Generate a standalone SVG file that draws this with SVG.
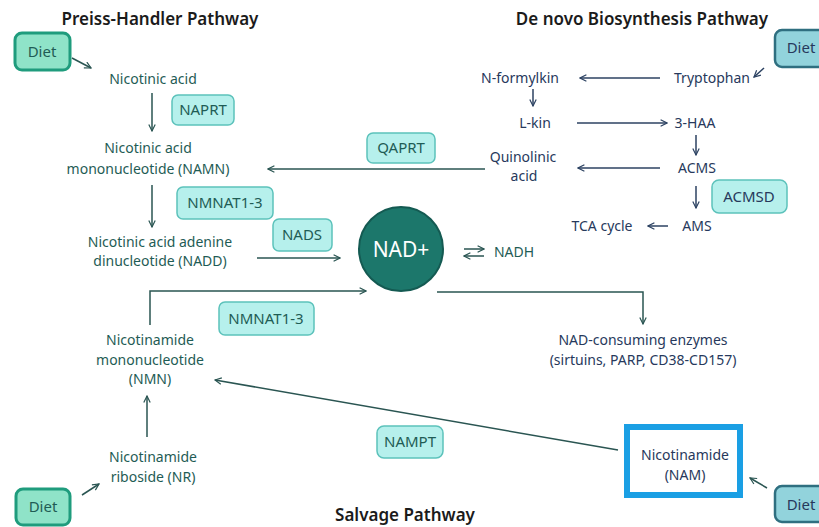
<svg xmlns="http://www.w3.org/2000/svg" width="819" height="527" viewBox="0 0 819 527">
<defs>
<style>
.t{font-family:"Noto Sans","Liberation Sans",sans-serif;font-size:14px;text-anchor:middle}
.e{font-size:15px}
.big{font-size:21px;fill:#ffffff}
.g{fill:#1f5c55}
.b{fill:#27395c}
.title{font-family:"Noto Sans","Liberation Sans",sans-serif;font-size:17px;font-weight:600;fill:#1b1b1b;text-anchor:middle}
.enz{fill:#b6f0ec;stroke:#5cc2bb;stroke-width:1.5}
.dietL{fill:#8fe3c8;stroke:#1f9c7d;stroke-width:3}
.dietR{fill:#92d3dc;stroke:#2f6f80;stroke-width:2.5}
.lg{fill:none;stroke:#2a5552;stroke-width:1.5}
.lb{fill:none;stroke:#2c4262;stroke-width:1.5}
</style>
<marker id="ag" viewBox="0 0 10 10" refX="9" refY="5" markerWidth="8" markerHeight="8" orient="auto" markerUnits="userSpaceOnUse"><path d="M1,1 L9,5 L1,9" fill="none" stroke="#2a5552" stroke-width="1.5"/></marker>
<marker id="ab" viewBox="0 0 10 10" refX="9" refY="5" markerWidth="8" markerHeight="8" orient="auto" markerUnits="userSpaceOnUse"><path d="M1,1 L9,5 L1,9" fill="none" stroke="#2c4262" stroke-width="1.5"/></marker>
</defs>
<rect width="819" height="527" fill="#ffffff"/>

<text class="title" x="160" y="25">Preiss-Handler Pathway</text>
<text class="title" x="642" y="25">De novo Biosynthesis Pathway</text>
<text class="title" x="405" y="521">Salvage Pathway</text>

<g id="connectors">
<line class="lg" x1="72" y1="58" x2="91" y2="68" marker-end="url(#ag)"/>
<line class="lg" x1="152" y1="93" x2="152" y2="131" marker-end="url(#ag)"/>
<line class="lg" x1="152" y1="185" x2="152" y2="227" marker-end="url(#ag)"/>
<line class="lg" x1="257" y1="258" x2="340" y2="258" marker-end="url(#ag)"/>
<line class="lg" x1="485" y1="169" x2="268" y2="169" marker-end="url(#ag)"/>
<polyline class="lg" points="150,325 150,291 366,291" marker-end="url(#ag)"/>
<line class="lg" x1="147" y1="437" x2="147" y2="396" marker-end="url(#ag)"/>
<line class="lg" x1="82" y1="495" x2="99" y2="484" marker-end="url(#ag)"/>
<line class="lg" x1="618" y1="450" x2="215" y2="380" marker-end="url(#ag)"/>
<polyline class="lg" points="437,292 643,292 643,324" marker-end="url(#ag)"/>
<line class="lg" x1="767" y1="488" x2="750" y2="478" marker-end="url(#ag)"/>
<line class="lb" x1="764" y1="68" x2="754" y2="77" marker-end="url(#ab)"/>
<line class="lb" x1="660" y1="78" x2="580" y2="78" marker-end="url(#ab)"/>
<line class="lb" x1="533" y1="89" x2="533" y2="106" marker-end="url(#ab)"/>
<line class="lb" x1="577" y1="123" x2="667" y2="123" marker-end="url(#ab)"/>
<line class="lb" x1="696" y1="135" x2="696" y2="155" marker-end="url(#ab)"/>
<line class="lb" x1="660" y1="168" x2="578" y2="168" marker-end="url(#ab)"/>
<line class="lb" x1="696" y1="186" x2="696" y2="208" marker-end="url(#ab)"/>
<line class="lb" x1="668" y1="226" x2="648" y2="226" marker-end="url(#ab)"/>
<line class="lg" x1="464" y1="249" x2="484" y2="249" marker-end="url(#ag)"/>
<line class="lg" x1="484" y1="256" x2="464" y2="256" marker-end="url(#ag)"/>
</g>

<g id="diet-tl"><rect class="dietL" x="15" y="33" width="55" height="37" rx="7"/><text class="t e g" x="42" y="57">Diet</text></g>
<g id="diet-bl"><rect class="dietL" x="16" y="489" width="54" height="36" rx="7"/><text class="t e g" x="43" y="512">Diet</text></g>
<g id="diet-tr"><rect class="dietR" x="775" y="30" width="56" height="37" rx="7"/><text class="t e b" x="801" y="53">Diet</text></g>
<g id="diet-br"><rect class="dietR" x="775" y="486" width="56" height="36" rx="7"/><text class="t e b" x="801" y="510">Diet</text></g>

<g id="nicotinic-acid"><text class="t g" x="153" y="84">Nicotinic acid</text></g>
<g id="naprt"><rect class="enz" x="172" y="95" width="62" height="30" rx="6"/><text class="t e g" x="203" y="115">NAPRT</text></g>
<g id="namn"><text class="t g" x="148" y="153">Nicotinic acid</text><text class="t g" x="148" y="174">mononucleotide (NAMN)</text></g>
<g id="qaprt"><rect class="enz" x="367" y="133" width="68" height="30" rx="6"/><text class="t e g" x="401" y="153">QAPRT</text></g>
<g id="nmnat-a"><rect class="enz" x="177" y="187" width="96" height="32" rx="6"/><text class="t e g" x="225" y="208">NMNAT1-3</text></g>
<g id="nadd"><text class="t g" x="160" y="247">Nicotinic acid adenine</text><text class="t g" x="160" y="266">dinucleotide (NADD)</text></g>
<g id="nads"><rect class="enz" x="273" y="219" width="59" height="32" rx="6"/><text class="t e g" x="302" y="240">NADS</text></g>

<g id="nad"><circle cx="401" cy="249" r="42" fill="#1c776b" stroke="#145a52" stroke-width="2"/><text class="t big" x="401" y="257">NAD+</text></g>
<g id="nadh"><text class="t g" x="514" y="257">NADH</text></g>

<g id="tryptophan"><text class="t b" x="712" y="83">Tryptophan</text></g>
<g id="nformylkin"><text class="t b" x="520" y="83">N-formylkin</text></g>
<g id="lkin"><text class="t b" x="535" y="128">L-kin</text></g>
<g id="haa"><text class="t b" x="695" y="128">3-HAA</text></g>
<g id="quinolinic"><text class="t b" x="523" y="162">Quinolinic</text><text class="t b" x="524" y="181">acid</text></g>
<g id="acms"><text class="t b" x="697" y="173">ACMS</text></g>
<g id="acmsd"><rect class="enz" x="712" y="180" width="75" height="33" rx="7"/><text class="t e b" x="749" y="202">ACMSD</text></g>
<g id="ams"><text class="t b" x="697" y="231">AMS</text></g>
<g id="tca"><text class="t b" x="602" y="231">TCA cycle</text></g>

<g id="nmnat-b"><rect class="enz" x="219" y="302" width="95" height="33" rx="6"/><text class="t e g" x="266" y="324">NMNAT1-3</text></g>
<g id="nmn"><text class="t g" x="150" y="345">Nicotinamide</text><text class="t g" x="150" y="365">mononucleotide</text><text class="t g" x="150" y="384">(NMN)</text></g>
<g id="nr"><text class="t g" x="153" y="462">Nicotinamide</text><text class="t g" x="153" y="482">riboside (NR)</text></g>
<g id="consuming"><text class="t b" x="643" y="345">NAD-consuming enzymes</text><text class="t b" x="643" y="365">(sirtuins, PARP, CD38-CD157)</text></g>
<g id="nampt"><rect class="enz" x="377" y="426" width="66" height="32" rx="7"/><text class="t e g" x="410" y="447">NAMPT</text></g>
<g id="nam"><rect x="627" y="427" width="113" height="68" fill="#ffffff" stroke="#1a9fe4" stroke-width="6"/><text class="t b" x="685" y="460">Nicotinamide</text><text class="t b" x="685" y="480">(NAM)</text></g>
</svg>
